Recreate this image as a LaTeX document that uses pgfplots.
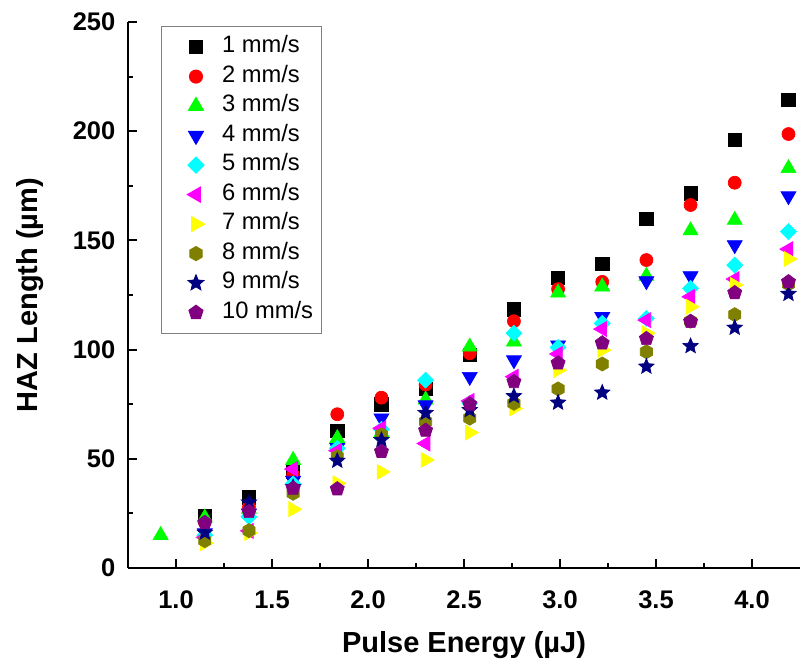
\documentclass[border=0pt]{standalone}
\usepackage{fontspec}
\setmainfont{Liberation Sans}
\usepackage{pgfplots}
\pgfplotsset{compat=1.18}
\usetikzlibrary{plotmarks}

\definecolor{c1}{HTML}{000000}
\definecolor{c2}{HTML}{FF0000}
\definecolor{c3}{HTML}{00FF00}
\definecolor{c4}{HTML}{0000FF}
\definecolor{c5}{HTML}{00FFFF}
\definecolor{c6}{HTML}{FF00FF}
\definecolor{c7}{HTML}{FFFF00}
\definecolor{c8}{HTML}{808000}
\definecolor{c9}{HTML}{000080}
\definecolor{c10}{HTML}{800080}

% filled hexagon, pointy top
\pgfdeclareplotmark{hexagon*}{%
  \pgfpathmoveto{\pgfqpointpolar{90}{\pgfplotmarksize}}%
  \pgfpathlineto{\pgfqpointpolar{150}{\pgfplotmarksize}}%
  \pgfpathlineto{\pgfqpointpolar{210}{\pgfplotmarksize}}%
  \pgfpathlineto{\pgfqpointpolar{270}{\pgfplotmarksize}}%
  \pgfpathlineto{\pgfqpointpolar{330}{\pgfplotmarksize}}%
  \pgfpathlineto{\pgfqpointpolar{30}{\pgfplotmarksize}}%
  \pgfpathclose\pgfusepathqfillstroke}

% filled five-point star
\pgfdeclareplotmark{fstar}{%
  \pgfpathmoveto{\pgfqpointpolar{90}{\pgfplotmarksize}}%
  \pgfpathlineto{\pgfqpointpolar{126}{0.45\pgfplotmarksize}}%
  \pgfpathlineto{\pgfqpointpolar{162}{\pgfplotmarksize}}%
  \pgfpathlineto{\pgfqpointpolar{198}{0.45\pgfplotmarksize}}%
  \pgfpathlineto{\pgfqpointpolar{234}{\pgfplotmarksize}}%
  \pgfpathlineto{\pgfqpointpolar{270}{0.45\pgfplotmarksize}}%
  \pgfpathlineto{\pgfqpointpolar{306}{\pgfplotmarksize}}%
  \pgfpathlineto{\pgfqpointpolar{342}{0.45\pgfplotmarksize}}%
  \pgfpathlineto{\pgfqpointpolar{18}{\pgfplotmarksize}}%
  \pgfpathlineto{\pgfqpointpolar{54}{0.45\pgfplotmarksize}}%
  \pgfpathclose\pgfusepathqfillstroke}

\begin{document}
\begin{tikzpicture}
\begin{axis}[
    scale only axis,
    width=13.44cm,
    height=10.92cm,
    xmin=0.75, xmax=4.25,
    ymin=0, ymax=250,
    xtick={1,1.5,...,4},
    ytick={0,50,...,250},
    minor tick num=1,
    axis lines*=left,
    axis line style={-, line width=1.15pt},
    tick align=inside,
    major tick length=0.18cm,
    minor tick length=0.1cm,
    tick style={line width=1.15pt, black},
    /pgf/number format/assume math mode=true,
    tick label style={font=\fontsize{14.5}{16}\selectfont\bfseries},
    xticklabel style={yshift=-0.33cm, /pgf/number format/.cd, fixed, fixed zerofill, precision=1},
    yticklabel style={xshift=-0.13cm},
    xlabel={Pulse Energy (µJ)},
    ylabel={HAZ Length (µm)},
    label style={font=\fontsize{16.5}{18}\selectfont\bfseries},
    xlabel style={at={(axis description cs:0.5,-0.141)}, anchor=center},
    ylabel style={at={(axis description cs:-0.146,0.5)}, anchor=center},
    only marks,
    mark size=4pt,
    clip=false,
    legend cell align=left,
    legend image code/.code={\path (-0.56cm,0) (0.15cm,0); \draw[#1] plot coordinates {(0cm,0cm)};},
    legend style={
        at={(0.049,0.993)}, anchor=north west,
        draw=gray, line width=0.6pt, fill=white,
        font=\fontsize{13.5}{15}\selectfont,
        inner xsep=0.12cm, inner ysep=0.12cm,
        row sep=0pt,
        column sep=0.3cm,
        nodes={inner sep=0.05cm, text height=0.36cm, text depth=0.13cm},
    },
]
\addplot[mark=square*, color=c1, mark size=3.8pt] coordinates {
(1.15,23.8) (1.38,32.4) (1.61,44) (1.84,62.9) (2.07,75) (2.30,82) (2.53,97.5)
(2.76,118.4) (2.99,132.8) (3.22,139.2) (3.45,160) (3.68,171.6) (3.91,196) (4.19,214.3)};
\addlegendentry{1 mm/s}
\addplot[mark=*, color=c2, mark size=3.7pt] coordinates {
(1.15,21) (1.38,28) (1.61,42.6) (1.84,70.4) (2.07,78) (2.30,84) (2.53,98.3)
(2.76,113) (2.99,127.7) (3.22,131) (3.45,141) (3.68,166.2) (3.91,176.4) (4.19,198.7)};
\addlegendentry{2 mm/s}
\addplot[mark=triangle*, color=c3, mark size=4.9pt] coordinates {
(0.92,15) (1.15,23) (1.38,27) (1.61,49.4) (1.84,59.4) (2.07,62) (2.30,77) (2.53,101.3)
(2.76,103.6) (2.99,126) (3.22,128.8) (3.45,133.7) (3.68,154.5) (3.91,159.3) (4.19,183)};
\addlegendentry{3 mm/s}
\addplot[mark=triangle*, mark options={rotate=180}, color=c4, mark size=4.9pt] coordinates {
(1.15,16) (1.38,25) (1.61,40) (1.84,55) (2.07,68.6) (2.30,74.6) (2.53,87.6)
(2.76,95.2) (2.99,102) (3.22,115) (3.45,131.4) (3.68,133.7) (3.91,147.9) (4.19,170.3)};
\addlegendentry{4 mm/s}
\addplot[mark=square*, mark options={rotate=45}, color=c5, mark size=3.2pt] coordinates {
(1.15,15) (1.38,23.5) (1.61,38.5) (1.84,54.8) (2.07,63.5) (2.30,86) (2.53,75.5)
(2.76,107.5) (2.99,101) (3.22,112) (3.45,114.3) (3.68,128) (3.91,138.7) (4.19,154)};
\addlegendentry{5 mm/s}
\addplot[mark=triangle*, mark options={rotate=90}, color=c6, mark size=4.9pt] coordinates {
(1.15,14) (1.38,17) (1.61,45.3) (1.84,53.7) (2.07,64) (2.30,57) (2.53,76.5)
(2.76,87.6) (2.99,98) (3.22,109.4) (3.45,113.5) (3.68,124.2) (3.91,132.3) (4.19,146)};
\addlegendentry{6 mm/s}
\addplot[mark=triangle*, mark options={rotate=-90}, color=c7, mark size=4.9pt] coordinates {
(1.15,11.4) (1.38,16) (1.61,26.9) (1.84,38.8) (2.07,44) (2.30,49.5) (2.53,62)
(2.76,73) (2.99,90.6) (3.22,99.8) (3.45,107.5) (3.68,119.6) (3.91,129.6) (4.19,141.5)};
\addlegendentry{7 mm/s}
\addplot[mark=hexagon*, color=c8, mark size=4pt] coordinates {
(1.15,12.5) (1.38,17.1) (1.61,34.2) (1.84,51) (2.07,61) (2.30,67) (2.53,68.6)
(2.76,75.4) (2.99,82) (3.22,93.4) (3.45,99) (3.68,113) (3.91,116) (4.19,130)};
\addlegendentry{8 mm/s}
\addplot[mark=fstar, color=c9, mark size=4.6pt] coordinates {
(1.15,16.2) (1.38,30) (1.61,37) (1.84,49.1) (2.07,58.6) (2.30,71) (2.53,72.3)
(2.76,78.7) (2.99,75.7) (3.22,80.3) (3.45,92.2) (3.68,101.6) (3.91,110) (4.19,125.5)};
\addlegendentry{9 mm/s}
\addplot[mark=pentagon*, color=c10, mark size=4.2pt] coordinates {
(1.15,20.8) (1.38,25.8) (1.61,36.5) (1.84,36.2) (2.07,53.3) (2.30,63) (2.53,75)
(2.76,85.3) (2.99,93.8) (3.22,103) (3.45,105) (3.68,112.8) (3.91,126) (4.19,131)};
\addlegendentry{10 mm/s}
\coordinate (sw) at (rel axis cs:0,0);
\coordinate (ne) at (rel axis cs:1,1);
\end{axis}
\pgfresetboundingbox
\path ([shift={(-2.56cm,-2.04cm)}]sw) rectangle ([shift={(0cm,0.44cm)}]ne);
\end{tikzpicture}
\end{document}
